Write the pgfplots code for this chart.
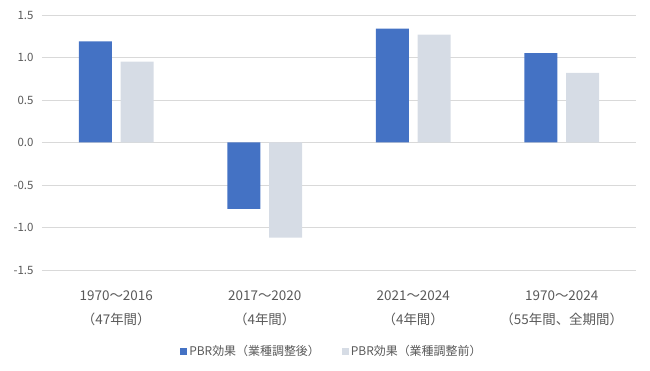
\documentclass[border=0pt]{standalone}
\usepackage{fontspec}
\setmainfont{Noto Sans CJK JP}
\usepackage{pgfplots}
\pgfplotsset{compat=1.18}
\definecolor{barblue}{HTML}{4472C4}
\definecolor{bargray}{HTML}{D6DCE5}
\definecolor{txt}{HTML}{595959}
\definecolor{gridc}{HTML}{D9D9D9}
\begin{document}
\begin{tikzpicture}
\useasboundingbox (0bp,0bp) rectangle (650bp,371bp);
\begin{axis}[
  at={(42bp,101bp)}, anchor=south west,
  scale only axis, width=594bp, height=255bp,
  xmin=-0.5, xmax=3.5, ymin=-1.5, ymax=1.5,
  ytick={-1.5,-1.0,-0.5,0,0.5,1.0,1.5},
  /pgf/number format/fixed,
  /pgf/number format/fixed zerofill,
  /pgf/number format/precision=1,
  /pgf/number format/assume math mode=true,
  yticklabel style={font=\fontsize{11.5}{13}\selectfont, text=txt, xshift=-5bp},
  xtick={0,1,2,3},
  xticklabels={{1970～2016\\（47年間）},{2017～2020\\（4年間）},{2021～2024\\（4年間）},{1970～2024\\（55年間、全期間）}},
  xticklabel style={align=center, font=\fontsize{13.5}{24}\selectfont, text=txt, yshift=-17bp},
  axis line style={draw=none},
  major tick length=0pt,
  ymajorgrids,
  grid style={gridc, line width=0.8bp},
  legend style={at={(0.488,-0.32)}, anchor=center, draw=none, fill=none,
    legend columns=2, font=\fontsize{12}{13}\selectfont, text=txt,
    /tikz/every even column/.append style={column sep=20bp}},
  legend image code/.code={\fill[#1] (0bp,-3.5bp) rectangle (7bp,3.5bp);},
]
\addplot[ybar, fill=barblue, draw=none, bar width=0.222, bar shift=-0.141]
  coordinates {(0,1.19) (1,-0.78) (2,1.34) (3,1.05)};
\addlegendentry{PBR効果（業種調整後）}
\addplot[ybar, fill=bargray, draw=none, bar width=0.222, bar shift=0.141]
  coordinates {(0,0.95) (1,-1.12) (2,1.27) (3,0.82)};
\addlegendentry{PBR効果（業種調整前）}
\end{axis}
\end{tikzpicture}
\end{document}
